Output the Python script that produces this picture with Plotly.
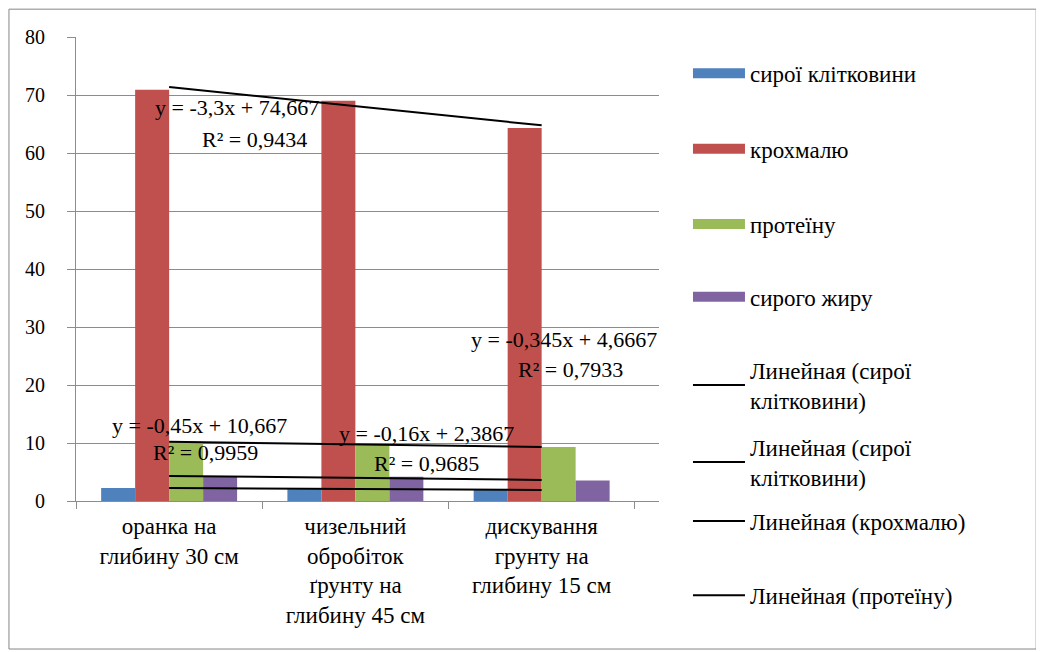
import plotly.graph_objects as go

categories = ["оранка на<br>глибину 30 см",
              "чизельний<br>обробіток<br>ґрунту на<br>глибину 45 см",
              "дискування<br>грунту на<br>глибину 15 см"]
series_names = ["сирої клітковини", "крохмалю", "протеїну", "сирого жиру"]
fibre = [2.25, 2.03, 1.93]
starch = [70.9, 69.0, 64.3]
protein = [10.2, 9.8, 9.3]
fat = [4.22, 4.18, 3.53]
colors = ["#4F81BD", "#C0504D", "#9BBB59", "#8064A2"]

# trendlines (slope, intercept as printed), legend names
trend_names = ["Линейная (сирої<br>клітковини)", "Линейная (сирої<br>клітковини)",
               "Линейная (крохмалю)", "Линейная (протеїну)"]
trend_slope = [-0.16, -0.345, -3.3, -0.45]
trend_intercept = [2.3867, 4.6667, 74.667, 10.667]

eq_texts = ["y = -3,3x + 74,667", "R² = 0,9434",
            "y = -0,345x + 4,6667", "R² = 0,7933",
            "y = -0,45x + 10,667", "R² = 0,9959",
            "y = -0,16x + 2,3867", "R² = 0,9685"]
eq_x = [0.367, 0.457, 2.12, 2.155, 0.164, 0.195, 1.381, 1.381]
eq_y = [67.8, 62.4, 27.8, 22.6, 13.1, 8.3, 11.7, 6.55]

# legend item centre positions (paper y)
legend_y = [0.922, 0.759, 0.597, 0.440, 0.25, 0.084, -0.043, -0.203]

FONT = "Liberation Serif, DejaVu Serif, Times New Roman, serif"
fig = go.Figure()
legend_ids = ["legend"] + ["legend%d" % k for k in range(2, 9)]
for i, (nm, vals) in enumerate(zip(series_names, [fibre, starch, protein, fat])):
    fig.add_trace(go.Bar(x=categories, y=vals, name=nm, marker_color=colors[i],
                         marker_line_width=0, showlegend=False, legendgroup=nm))
    # legend key drawn as a wide coloured block, like the original
    fig.add_trace(go.Scatter(x=[None], y=[None], mode="lines", name=nm,
                             line=dict(color=colors[i], width=14), legendgroup=nm,
                             legend=legend_ids[i], hoverinfo="skip"))

for j, (nm, a, b) in enumerate(zip(trend_names, trend_slope, trend_intercept)):
    xs = [1, 3]
    fig.add_trace(go.Scatter(x=[categories[0], categories[2]], y=[a * x + b for x in xs],
                             mode="lines", name=nm, line=dict(color="black", width=2),
                             legend=legend_ids[4 + j]))

for t, x, y in zip(eq_texts, eq_x, eq_y):
    fig.add_annotation(x=x, y=y, xref="x", yref="y", text=t, showarrow=False,
                       font=dict(family=FONT, size=22, color="black"),
                       xanchor="center", yanchor="middle")

fig.add_shape(type="rect", xref="paper", yref="paper",
              x0=-0.115, x1=1.647, y0=-0.319, y1=1.06,
              line=dict(color="#868686", width=1), fillcolor="rgba(0,0,0,0)", layer="below")

layout_legends = {}
for k, lid in enumerate(legend_ids):
    layout_legends[lid] = dict(x=1.0497, xanchor="left", y=legend_y[k], yanchor="middle",
                               font=dict(family=FONT, size=23, color="black"),
                               bgcolor="rgba(0,0,0,0)", itemwidth=52)

fig.update_layout(
    width=1036, height=644,
    margin=dict(l=68, r=385, t=29, b=151),
    paper_bgcolor="white", plot_bgcolor="white",
    barmode="group", bargap=0.27, bargroupgap=0,
    font=dict(family=FONT, size=20, color="black"),
    showlegend=True,
    **layout_legends,
)
fig.update_yaxes(range=[0, 80], dtick=10, showgrid=True, gridcolor="#8c8c8c", gridwidth=1,
                 showline=True, linecolor="#8c8c8c", ticks="outside", ticklen=8,
                 tickcolor="#8c8c8c", ticklabelstandoff=18, zeroline=False,
                 tickfont=dict(family=FONT, size=20))
fig.update_xaxes(showline=True, linecolor="#8c8c8c", ticks="outside", ticklen=7,
                 tickcolor="#8c8c8c", tickson="boundaries", showgrid=False,
                 ticklabelstandoff=4,
                 tickfont=dict(family=FONT, size=23), tickangle=0)

fig.write_html("out.html")
